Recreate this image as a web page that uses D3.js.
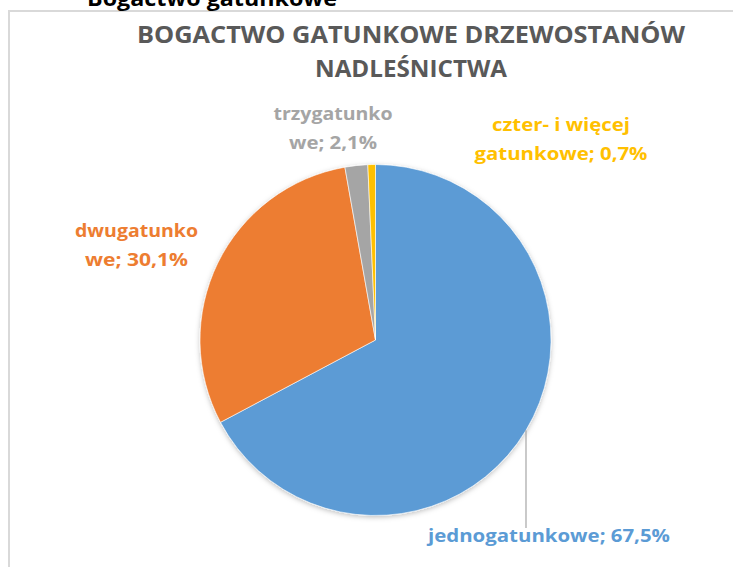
<!DOCTYPE html>
<html>
<head>
<meta charset="utf-8">
<script src="https://cdn.jsdelivr.net/npm/d3@7"></script>
<style>
  body { margin: 0; background: #fff; }
  svg { display: block; font-family: "Open Sans", "DejaVu Sans", sans-serif; font-weight: bold; }
</style>
</head>
<body>
<div class="chart"></div>
<script>
// ---------- data
var categories = ["jednogatunkowe", "dwugatunkowe", "trzygatunkowe", "czter- i więcej gatunkowe"];
var shares = [67.5, 30.1, 2.1, 0.7];
var shareLabels = ["67,5%", "30,1%", "2,1%", "0,7%"];
// how the label text is broken in the picture
var labelLines = [
  ["jednogatunkowe; 67,5%"],
  ["dwugatunko", "we; 30,1%"],
  ["trzygatunko", "we; 2,1%"],
  ["czter- i więcej", "gatunkowe; 0,7%"]
];
var colors = ["#5B9BD5", "#ED7D31", "#A5A5A5", "#FFC000"];
var titleLines = ["BOGACTWO GATUNKOWE DRZEWOSTANÓW", "NADLEŚNICTWA"];
var headerText = "Bogactwo gatunkowe";

// ---------- layout
var width = 733, height = 567;
var cx = 375.5, cy = 340, radius = 175.5;
var lineGap = 29;
// label anchor (centre x, first baseline y) and measured line widths
var labelLayout = [
  { x: 549, y: 542, widths: [242] },
  { x: 136.5, y: 237, widths: [123, 103] },
  { x: 333, y: 120, widths: [119, 88] },
  { x: 561, y: 131, widths: [138, 173] }
];

var svg = d3.select("div.chart").append("svg")
  .attr("width", width)
  .attr("height", height);

var defs = svg.append("defs");
var shadow = defs.append("filter").attr("id", "pieShadow")
  .attr("x", "-10%").attr("y", "-10%").attr("width", "120%").attr("height", "120%");
shadow.append("feDropShadow")
  .attr("dx", 0).attr("dy", 1.5).attr("stdDeviation", 2.5)
  .attr("flood-color", "#000").attr("flood-opacity", 0.25);

// frame of the chart area (only top + left are inside the picture)
svg.append("rect")
  .attr("x", 9).attr("y", 11)
  .attr("width", 800).attr("height", 700)
  .attr("fill", "none")
  .attr("stroke", "#d9d9d9")
  .attr("stroke-width", 2);

// clipped heading above the frame
svg.append("text")
  .attr("x", 87).attr("y", 6)
  .attr("font-size", 22)
  .attr("fill", "#000")
  .attr("textLength", 250)
  .attr("lengthAdjust", "spacingAndGlyphs")
  .text(headerText);

// title
var titleWidths = [548, 192];
svg.append("g").selectAll("text")
  .data(titleLines)
  .enter().append("text")
  .attr("x", 411)
  .attr("y", (d, i) => 43 + i * 34)
  .attr("text-anchor", "middle")
  .attr("font-size", 23.5)
  .attr("fill", "#595959")
  .attr("textLength", (d, i) => titleWidths[i])
  .attr("lengthAdjust", "spacingAndGlyphs")
  .text(d => d);

// ---------- pie
var pie = d3.pie().sort(null).value(d => d);
var arc = d3.arc().innerRadius(0).outerRadius(radius);
var arcs = pie(shares);

var pieG = svg.append("g")
  .attr("transform", `translate(${cx}, ${cy})`);

pieG.append("g")
  .attr("filter", "url(#pieShadow)")
  .selectAll("path")
  .data(arcs)
  .enter().append("path")
  .attr("d", arc)
  .attr("fill", (d, i) => colors[i])
  .attr("stroke", "#fff")
  .attr("stroke-width", 0.6)
  .attr("stroke-linejoin", "round");

// leader line for the big slice label
var lead = labelLayout[0];
var ldx = lead.x - 23 - cx;
svg.append("line")
  .attr("x1", lead.x - 23).attr("x2", lead.x - 23)
  .attr("y1", cy + Math.sqrt(radius * radius - ldx * ldx))
  .attr("y2", lead.y - 14)
  .attr("stroke", "#a6a6a6")
  .attr("stroke-width", 1.2);

// ---------- data labels
var labelG = svg.append("g").selectAll("g")
  .data(categories)
  .enter().append("g");

labelG.each(function(d, i) {
  var lay = labelLayout[i];
  d3.select(this).selectAll("text")
    .data(labelLines[i])
    .enter().append("text")
    .attr("x", lay.x)
    .attr("y", (t, j) => lay.y + j * lineGap)
    .attr("text-anchor", "middle")
    .attr("font-size", 18)
    .attr("fill", colors[i])
    .attr("textLength", (t, j) => lay.widths[j])
    .attr("lengthAdjust", "spacingAndGlyphs")
    .text(t => t);
});
</script>
</body>
</html>
